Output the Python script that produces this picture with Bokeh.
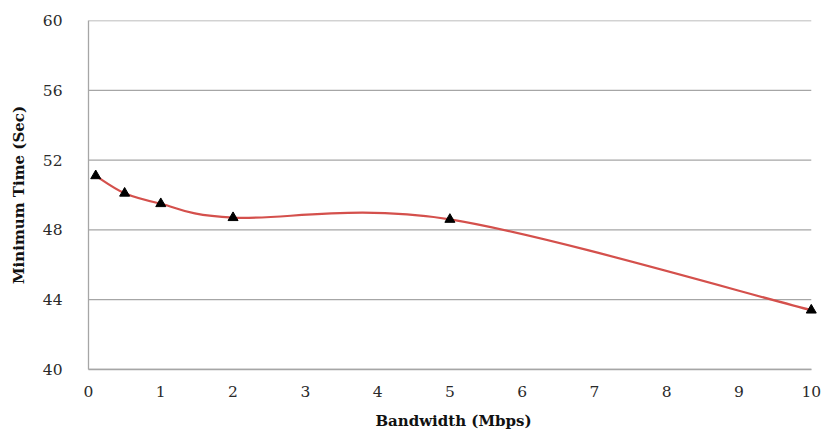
from bokeh.plotting import figure
from bokeh.models import FixedTicker, Range1d, ColumnDataSource
from bokeh.embed import file_html
from bokeh.resources import INLINE

bandwidth = [0.1, 0.5, 1, 2, 5, 10]
min_time = [51.1, 50.1, 49.5, 48.7, 48.6, 43.4]
x_ticks = [0, 1, 2, 3, 4, 5, 6, 7, 8, 9, 10]
y_ticks = [40, 44, 48, 52, 56, 60]

FONT = "DejaVu Serif"
GRID = "#a6a6a6"
X_MAX = 10
X_PAD = 0.1

p = figure(width=821, height=434, output_backend="svg", toolbar_location=None,
           x_range=Range1d(0, X_MAX + X_PAD), y_range=Range1d(40, 60),
           min_border_left=88, min_border_right=3, min_border_top=20, min_border_bottom=65)
p.outline_line_color = None
p.xgrid.grid_line_color = None
p.ygrid.grid_line_color = None

# horizontal grid lines ending at x = 10
p.segment(x0=[0] * len(y_ticks), x1=[X_MAX] * len(y_ticks), y0=y_ticks, y1=y_ticks,
          line_color=GRID, line_width=1.3)

# smooth (Catmull-Rom -> Bezier) curve through the points
n = len(bandwidth)
pts = list(zip(bandwidth, min_time))
x0, y0, x1, y1, cx0, cy0, cx1, cy1 = [], [], [], [], [], [], [], []
for i in range(n - 1):
    pm = pts[i - 1] if i > 0 else pts[i]
    pa = pts[i]
    pb = pts[i + 1]
    pn = pts[i + 2] if i + 2 < n else pts[i + 1]
    x0.append(pa[0]); y0.append(pa[1]); x1.append(pb[0]); y1.append(pb[1])
    cx0.append(pa[0] + (pb[0] - pm[0]) / 6); cy0.append(pa[1] + (pb[1] - pm[1]) / 6)
    cx1.append(pb[0] - (pn[0] - pa[0]) / 6); cy1.append(pb[1] - (pn[1] - pa[1]) / 6)
src = ColumnDataSource(dict(x0=x0, y0=y0, x1=x1, y1=y1, cx0=cx0, cy0=cy0, cx1=cx1, cy1=cy1))
p.bezier(x0="x0", y0="y0", x1="x1", y1="y1", cx0="cx0", cy0="cy0", cx1="cx1", cy1="cy1",
         source=src, line_color="#d4504c", line_width=2.2)

p.scatter(bandwidth, min_time, marker="triangle", size=10, color="black")

p.xaxis.ticker = FixedTicker(ticks=x_ticks)
p.yaxis.ticker = FixedTicker(ticks=y_ticks)
p.xaxis.bounds = (0, X_MAX)
for ax in (p.xaxis, p.yaxis):
    ax.axis_line_color = GRID
    ax.axis_line_width = 1.3
    ax.major_tick_line_color = None
    ax.minor_tick_line_color = None
    ax.major_label_text_font = FONT
    ax.major_label_text_font_size = "15.5px"
    ax.major_label_text_color = "#2a2a2a"
    ax.axis_label_text_font = FONT
    ax.axis_label_text_font_style = "bold"
    ax.axis_label_text_font_size = "15px"
    ax.axis_label_text_color = "#111111"

p.xaxis.axis_label = "Bandwidth (Mbps)"
p.yaxis.axis_label = "Minimum Time (Sec)"
p.xaxis.major_label_standoff = 10
p.yaxis.major_label_standoff = 20
p.xaxis.axis_label_standoff = 12
p.yaxis.axis_label_standoff = 12

open("out.html", "w").write(file_html(p, INLINE))
